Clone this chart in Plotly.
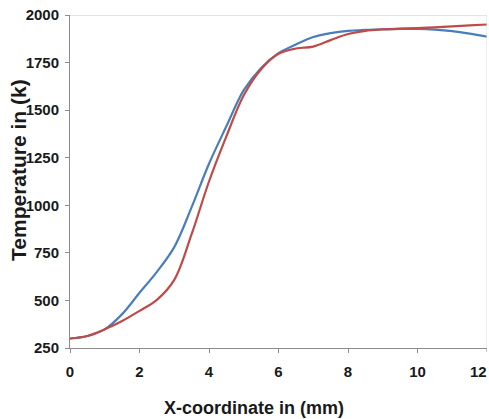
import plotly.graph_objects as go

# Axial position (mm) and temperatures (K) for the two profiles
x_mm = [0, 0.5, 1.0, 1.5, 2.0, 2.5, 3.0, 3.5, 4.0, 4.5, 5.0, 5.5, 6.0,
        6.5, 7.0, 7.5, 8.0, 8.5, 9.0, 9.5, 10.0, 10.5, 11.0, 11.5, 12.0]
temp_blue = [300, 313, 348, 428, 540, 650, 780, 990, 1218, 1415, 1605, 1722, 1800,
             1845, 1884, 1905, 1917, 1922, 1925, 1927, 1927, 1923, 1915, 1902, 1886]
temp_red = [300, 313, 348, 392, 445, 503, 608, 848, 1125, 1362, 1578, 1715, 1796,
            1824, 1834, 1868, 1900, 1917, 1924, 1928, 1931, 1935, 1940, 1945, 1950]

x_ticks = [0, 2, 4, 6, 8, 10, 12]
y_ticks = [250, 500, 750, 1000, 1250, 1500, 1750, 2000]

FONT = "Liberation Sans Narrow, Arial Narrow, Liberation Sans, Arial, sans-serif"
TICK_FONT = dict(family=FONT, size=15, color="#1a1a1a", weight="bold")

fig = go.Figure()
fig.add_trace(go.Scatter(x=x_mm, y=temp_blue, mode="lines", line_shape="spline",
                         line=dict(color="#4a7ebb", width=2.2), showlegend=False))
fig.add_trace(go.Scatter(x=x_mm, y=temp_red, mode="lines", line_shape="spline",
                         line=dict(color="#be4b48", width=2.2), showlegend=False))

fig.update_layout(
    width=489, height=419,
    margin=dict(l=70, r=2, t=15, b=71),
    paper_bgcolor="white", plot_bgcolor="white",
    font=dict(family=FONT, color="#1a1a1a"),
    xaxis=dict(range=[0, 12], tickvals=x_ticks[:-1], showgrid=False, zeroline=False,
               showline=True, linecolor="#8c8c8c", linewidth=1,
               ticks="outside", ticklen=4, tickcolor="#8c8c8c",
               ticklabelstandoff=6, tickfont=TICK_FONT),
    yaxis=dict(range=[250, 2000], tickvals=y_ticks, showgrid=False, zeroline=False,
               showline=True, linecolor="#8c8c8c", linewidth=1,
               ticks="outside", ticklen=4, tickcolor="#8c8c8c",
               ticklabelstandoff=3, tickfont=TICK_FONT),
    shapes=[
        dict(type="line", xref="paper", yref="y", x0=0, x1=1, y0=2000, y1=2000,
             line=dict(color="#c8c8c8", width=1)),
        dict(type="line", xref="x", yref="paper", x0=12, x1=12, y0=0, y1=1,
             line=dict(color="#dcdcdc", width=1)),
        # tick mark for the last x value, labelled separately at the right edge
        dict(type="line", xref="x", yref="paper", x0=x_ticks[-1], x1=x_ticks[-1],
             y0=0, y1=-0.012, line=dict(color="#8c8c8c", width=1)),
    ],
    annotations=[
        dict(text=str(x_ticks[-1]), xref="x", yref="paper",
             x=x_ticks[-1], y=-0.07, xanchor="right", yanchor="middle",
             xshift=2, showarrow=False, font=TICK_FONT),
        dict(text="X-coordinate in (mm)", xref="paper", yref="paper",
             x=0.441, y=-0.18, xanchor="center", yanchor="middle", showarrow=False,
             font=dict(family=FONT, size=18, color="#1a1a1a", weight="bold")),
        dict(text="Temperature in (k)", xref="paper", yref="paper",
             x=-0.122, y=0.535, xanchor="center", yanchor="middle", showarrow=False,
             textangle=-90,
             font=dict(family=FONT, size=21, color="#1a1a1a", weight="bold")),
    ],
)

fig.write_html("out.html")
